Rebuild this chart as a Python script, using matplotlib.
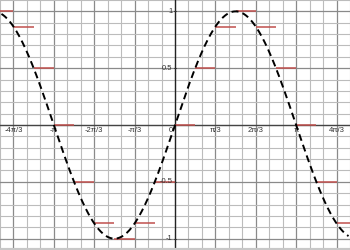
import numpy as np
import matplotlib
matplotlib.use("Agg")
import matplotlib.pyplot as plt

# sine curve with left-endpoint steps every pi/6
step_k = list(range(-9, 9))          # step starts, in units of pi/6
step_vals = [1, 0.866, 0.5, 0, -0.5, -0.866, -1, -0.866, -0.5,
             0, 0.5, 0.866, 1, 0.866, 0.5, 0, -0.5, -0.866]

xtick_k = [-4, -3, -2, -1, 1, 2, 3, 4]  # in units of pi/3
xtick_labels = ['-4π/3', '-π', '-2π/3', '-π/3', 'π/3', '2π/3', 'π', '4π/3']
ytick_vals = [-1, -0.5, 0.5, 1]
ytick_labels = ['-1', '-0.5', '0.5', '1']

plt.rcParams['font.family'] = ['Liberation Sans', 'DejaVu Sans']

fig = plt.figure(figsize=(3.5, 2.5), dpi=100)
ax = fig.add_axes([0, 0, 1, 1])

x = np.linspace(-4.5, 4.5, 600)
ax.plot(x, np.sin(x), color='black', lw=1.4, dashes=(3.6, 2.2), zorder=4)

starts = np.array(step_k) * np.pi / 6
ax.hlines(step_vals, starts, starts + np.pi / 6, color='#c0504d', lw=1.1, zorder=3)

ax.set_xlim(-4.44, 4.44)
ax.set_ylim(-1.07, 1.085)

ax.set_xticks(np.array(xtick_k) * np.pi / 3)
ax.set_xticks(np.arange(-13, 14) * np.pi / 9, minor=True)
ax.set_yticks(ytick_vals)
ax.set_yticks(np.arange(-11, 12) * 0.1, minor=True)
ax.grid(which='major', color='#8a8a8a', lw=0.9)
ax.grid(which='minor', color='#bcbcbc', lw=0.8)
ax.tick_params(which='both', length=0, labelbottom=False, labelleft=False)

ax.axhline(0, color='#444444', lw=1.0, zorder=2)
ax.axvline(0, color='#222222', lw=1.0, zorder=2)

for k, lab in zip(xtick_k, xtick_labels):
    ax.text(k * np.pi / 3, -0.015, lab, ha='center', va='top', fontsize=5.5, color='#333333')
for v, lab in zip(ytick_vals, ytick_labels):
    ax.text(-0.06, v, lab, ha='right', va='center', fontsize=5.5, color='#333333')
    ax.plot([-0.03, 0.03], [v, v], color='#333333', lw=0.6)
ax.text(-0.06, -0.015, '0', ha='right', va='top', fontsize=5.5, color='#333333')

for s in ['top', 'left', 'right']:
    ax.spines[s].set_visible(False)
ax.spines['bottom'].set_color('#c8c8c8')
ax.spines['bottom'].set_linewidth(3)

fig.savefig('out.png', dpi=100)
